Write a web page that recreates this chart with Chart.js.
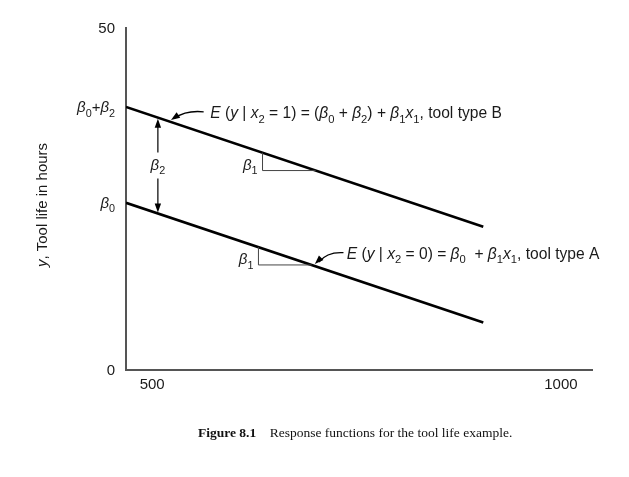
<!DOCTYPE html>
<html><head><meta charset="utf-8">
<script src="https://cdn.jsdelivr.net/npm/chart.js@4.4.0/dist/chart.umd.min.js"></script>
<style>
html,body{margin:0;padding:0;background:#fff;}
#wrap{position:relative;width:629px;height:477px;overflow:hidden;}
canvas{position:absolute;left:0;top:0;}
#cap{position:absolute;top:425px;left:198px;font-family:"Liberation Serif",serif;font-size:13.5px;line-height:16px;color:#111;white-space:pre;}
</style></head><body>
<div id="wrap"><canvas id="c" width="629" height="477"></canvas>
<div id="cap"><b>Figure 8.1</b>    Response functions for the tool life example.</div></div>
<script>
// ---- data ----
const speeds = [468, 905];
const toolTypeB = [38.45, 20.95];
const toolTypeA = [24.45, 6.95];
const xTickValues = [500, 1000];
const xTickLabels = ['500', '1000'];
const yTickValues = [0, 24.45, 38.45, 50];
const yTickLabels = ['0', '*β*_0', '*β*_0+*β*_2', '50'];
const xTitle = '*x*_1, Lathe speed (RPM)';
const yTitle = '*y*, Tool life in hours';
const eqB = '*E* (*y* | *x*_2 = 1) = (*β*_0 + *β*_2) + *β*_1*x*_1, tool type B';
const eqA = '*E* (*y* | *x*_2 = 0) = *β*_0  + *β*_1*x*_1, tool type A';

const FONT = '"Liberation Sans", Arial, sans-serif';
const INK = '#1a1a1a';

function lineY(arr, x) {
  return arr[0] + (arr[1] - arr[0]) * (x - speeds[0]) / (speeds[1] - speeds[0]);
}

function parseRich(s) {
  const segs = []; let italic = false; let i = 0;
  let cur = '';
  const push = (t, it, sub) => { if (t) segs.push({t, it, sub}); };
  while (i < s.length) {
    const c = s[i];
    if (c === '*') { push(cur, italic, false); cur = ''; italic = !italic; i++; continue; }
    if (c === '_') { push(cur, italic, false); cur = ''; push(s[i+1], false, true); i += 2; continue; }
    cur += c; i++;
  }
  push(cur, italic, false);
  return segs;
}
function fontFor(seg, size) {
  const sz = seg.sub ? size * 0.72 : size;
  return (seg.it ? 'italic ' : '') + sz + 'px ' + FONT;
}
function drawRich(ctx, s, x, y, size, align) {
  const segs = parseRich(s);
  let w = 0;
  segs.forEach(sg => { ctx.font = fontFor(sg, size); sg.w = ctx.measureText(sg.t).width; w += sg.w; });
  let cx = align === 'right' ? x - w : (align === 'center' ? x - w / 2 : x);
  const base = y + size * 0.36;
  ctx.textBaseline = 'alphabetic'; ctx.textAlign = 'left'; ctx.fillStyle = INK;
  segs.forEach(sg => {
    ctx.font = fontFor(sg, size);
    ctx.fillText(sg.t, cx, base + (sg.sub ? size * 0.28 : 0));
    cx += sg.w;
  });
  return w;
}
function arrowHead(ctx, tx, ty, fx, fy, len, hw) {
  const a = Math.atan2(ty - fy, tx - fx);
  ctx.beginPath();
  ctx.moveTo(tx, ty);
  ctx.lineTo(tx - len * Math.cos(a) + hw * Math.sin(a), ty - len * Math.sin(a) - hw * Math.cos(a));
  ctx.lineTo(tx - len * Math.cos(a) - hw * Math.sin(a), ty - len * Math.sin(a) + hw * Math.cos(a));
  ctx.closePath(); ctx.fill();
}

const annotations = {
  id: 'annotations',
  afterDraw(chart, args, opts) {
    const ctx = chart.ctx, xs = chart.scales.x, ys = chart.scales.y;
    const X = v => xs.getPixelForValue(v), Y = v => ys.getPixelForValue(v);
    ctx.save();
    // y tick labels
    ys.ticks.forEach(t => drawRich(ctx, yTickLabels[yTickValues.indexOf(t.value)] ?? String(t.value), xs.left - 11, Y(t.value), 15, 'right'));
    // axis titles
    ctx.save(); ctx.translate(42, (ys.top + ys.bottom) / 2 + 6); ctx.rotate(-Math.PI / 2);
    drawRich(ctx, yTitle, 0, 0, 15, 'center'); ctx.restore();
    drawRich(ctx, xTitle, (xs.left + xs.right) / 2 + 2, xs.bottom + 35, 15, 'center');

    // slope triangles
    ctx.strokeStyle = '#444'; ctx.lineWidth = 1;
    opts.triangles.forEach(tr => {
      const arr = tr.line === 'B' ? toolTypeB : toolTypeA;
      const x0 = X(tr.x0), x1 = X(tr.x1), yTop = Y(lineY(arr, tr.x0)), yBot = Y(lineY(arr, tr.x1));
      ctx.beginPath(); ctx.moveTo(x0, yTop); ctx.lineTo(x0, yBot); ctx.lineTo(x1, yBot); ctx.stroke();
      drawRich(ctx, '*β*_1', x0 - 5, (yTop + yBot) / 2 + 3, 15, 'right');
    });

    // beta2 double arrow
    ctx.strokeStyle = '#000'; ctx.fillStyle = '#000'; ctx.lineWidth = 1.2;
    const bx = X(opts.beta2.x);
    const yU = Y(lineY(toolTypeB, opts.beta2.x)), yL = Y(lineY(toolTypeA, opts.beta2.x));
    const mid = (yU + yL) / 2;
    ctx.beginPath(); ctx.moveTo(bx, yU + 4); ctx.lineTo(bx, mid - 13); ctx.moveTo(bx, mid + 13); ctx.lineTo(bx, yL - 4); ctx.stroke();
    arrowHead(ctx, bx, yU + 1, bx, yU + 20, 9, 3.2);
    arrowHead(ctx, bx, yL - 1, bx, yL - 20, 9, 3.2);
    drawRich(ctx, '*β*_2', bx, mid - 1, 15, 'center');

    // equation callouts
    opts.callouts.forEach(c => {
      const arr = c.line === 'B' ? toolTypeB : toolTypeA;
      const tx = X(c.tip), ty = Y(lineY(arr, c.tip)) - 2;
      const sx = X(c.tail[0]), sy = Y(c.tail[1]);
      const cx = X(c.ctrl[0]), cy = Y(c.ctrl[1]);
      ctx.strokeStyle = '#000'; ctx.fillStyle = '#000'; ctx.lineWidth = 1.3;
      ctx.beginPath(); ctx.moveTo(sx, sy); ctx.quadraticCurveTo(cx, cy, tx + 4, ty - 2); ctx.stroke();
      arrowHead(ctx, tx, ty, cx, cy, 9, 3.2);
      drawRich(ctx, c.text, X(c.at[0]), Y(c.at[1]), 15.6, 'left');
    });
    ctx.restore();
  }
};

new Chart(document.getElementById('c'), {
  type: 'scatter',
  data: {
    datasets: [
      { label: 'Tool type B', data: speeds.map((x, i) => ({x, y: toolTypeB[i]})), showLine: true, borderColor: '#000', borderWidth: 2.6, pointRadius: 0, fill: false },
      { label: 'Tool type A', data: speeds.map((x, i) => ({x, y: toolTypeA[i]})), showLine: true, borderColor: '#000', borderWidth: 2.6, pointRadius: 0, fill: false }
    ]
  },
  options: {
    responsive: false, animation: false, devicePixelRatio: 1,
    layout: { padding: { left: 0, right: 37, top: 28, bottom: 0 } },
    plugins: {
      legend: { display: false }, tooltip: { enabled: false },
      annotations: {
        triangles: [ { line: 'B', x0: 635, x1: 700 }, { line: 'A', x0: 630, x1: 695 } ],
        beta2: { x: 507 },
        callouts: [
          { line: 'B', text: eqB, at: [571, 37.6], tail: [563, 37.75], ctrl: [541, 38.0], tip: 523 },
          { line: 'A', text: eqA, at: [738, 17.1], tail: [734, 17.15], ctrl: [714, 17.3], tip: 699 }
        ]
      }
    },
    scales: {
      x: {
        type: 'linear', min: 468, max: 1038,
        afterBuildTicks: s => { s.ticks = xTickValues.map(v => ({value: v})); },
        afterFit: s => { s.height = 107; },
        grid: { display: false, drawTicks: false },
        border: { display: true, color: '#555', width: 2 },
        ticks: { color: INK, font: { family: FONT, size: 15 }, padding: 6,
                 callback: v => xTickLabels[xTickValues.indexOf(v)] ?? '' }
      },
      y: {
        type: 'linear', min: 0, max: 50,
        afterBuildTicks: s => { s.ticks = yTickValues.map(v => ({value: v})); },
        afterFit: s => { s.width = 126; },
        grid: { display: false, drawTicks: false },
        border: { display: true, color: '#555', width: 2 },
        ticks: { display: false }
      }
    }
  },
  plugins: [annotations]
});
</script>
</body></html>
